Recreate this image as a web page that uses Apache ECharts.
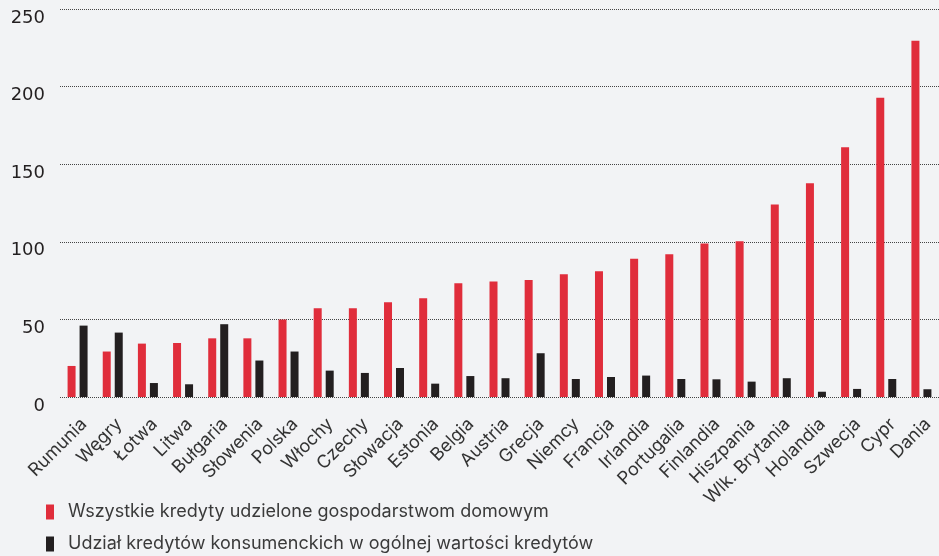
<!DOCTYPE html>
<html>
<head>
<meta charset="utf-8">
<script src="https://cdn.jsdelivr.net/npm/echarts@6/dist/echarts.min.js"></script>
<style>
html,body{margin:0;padding:0;background:#f2f3f5;}
#chart{width:939px;height:556px;}
</style>
</head>
<body>
<div id="chart"></div>
<script>
const categories = ['Rumunia','Węgry','Łotwa','Litwa','Bułgaria','Słowenia','Polska','Włochy','Czechy','Słowacja','Estonia','Belgia','Austria','Grecja','Niemcy','Francja','Irlandia','Portugalia','Finlandia','Hiszpania','Wlk. Brytania','Holandia','Szwecja','Cypr','Dania'];
const allLoans = [20.0,29.3,34.4,34.8,37.8,37.8,49.9,57.2,57.2,61.1,63.6,73.3,74.4,75.4,79.1,81.1,89.0,92.0,98.9,100.4,124.1,137.8,161.0,192.8,229.6];
const consumerShare = [46.0,41.5,9.0,8.2,46.9,23.5,29.3,17.0,15.5,18.7,8.6,13.5,12.1,28.2,11.6,12.9,13.8,11.6,11.4,9.9,12.1,3.4,5.2,11.6,5.0];
const seriesNames = ['Wszystkie kredyty udzielone gospodarstwom domowym','Udział kredytów konsumenckich w ogólnej wartości kredytów'];
const yTicks = {min:0, max:250, interval:50};

const chart = echarts.init(document.getElementById('chart'));
const font = 'Inter, "Noto Sans", sans-serif';
const legendBase = {
  orient:'horizontal', left:46, itemWidth:8, itemHeight:15, padding:0,
  icon:'rect',
  textStyle:{fontFamily:font, fontSize:18, color:'#3a3a3a', padding:[0,0,0,9]}
};
chart.setOption({
  backgroundColor:'#f2f3f5',
  animation:false,
  grid:{left:60, top:9, width:886, height:388, containLabel:false},
  legend:[
    Object.assign({}, legendBase, {top:503, data:[seriesNames[0]]}),
    Object.assign({}, legendBase, {top:535, data:[seriesNames[1]]})
  ],
  xAxis:{
    type:'category', data:categories,
    axisLine:{show:false}, axisTick:{show:false},
    axisLabel:{rotate:45, interval:0, fontFamily:font, fontSize:18, color:'#333', margin:18, verticalAlign:'top'}
  },
  yAxis:{
    type:'value', min:yTicks.min, max:yTicks.max, interval:yTicks.interval,
    axisLine:{show:false}, axisTick:{show:false},
    axisLabel:{fontFamily:'"DejaVu Sans", sans-serif', fontSize:18, color:'#231f20', margin:15, verticalAlign:'top'},
    splitLine:{lineStyle:{type:'dotted', color:'#444', width:1}}
  },
  series:[
    {name:seriesNames[0], type:'bar', data:allLoans, barWidth:8, barGap:'50%', itemStyle:{color:'#e02d3b'}},
    {name:seriesNames[1], type:'bar', data:consumerShare, barWidth:8, barGap:'50%', itemStyle:{color:'#231f20'}}
  ]
});
</script>
</body>
</html>
